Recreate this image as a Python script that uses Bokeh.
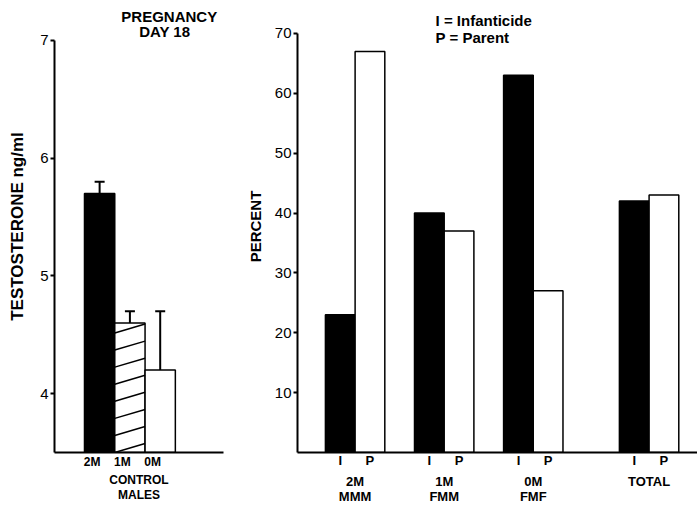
from bokeh.plotting import figure
from bokeh.layouts import row
from bokeh.models import (Range1d, FixedTicker, LinearAxis, Label, Whisker,
                          TeeHead, ColumnDataSource)
from bokeh.embed import file_html
from bokeh.resources import INLINE

# ---------------- data ----------------
ctrl_labels = ["2M", "1M", "0M"]
ctrl_testosterone = [5.7, 4.6, 4.2]
ctrl_sem = [0.1, 0.1, 0.5]

group_labels = ["2M\nMMM", "1M\nFMM", "0M\nFMF", "TOTAL"]
infanticide_pct = [23, 40, 63, 42]
parent_pct = [67, 37, 27, 43]
series_labels = ["I", "P"]

left_ticks = [4, 5, 6, 7]
right_ticks = [10, 20, 30, 40, 50, 60, 70]

# ---------------- styles / layout ----------------
FONT = "Liberation Sans"
left_fill = ["black", "white", "white"]
group_pos = [0, 3, 6, 9.9]
H = 506


def style_axis(ax):
    ax.axis_line_width = 2
    ax.major_tick_line_width = 2
    ax.major_tick_in = 0
    ax.major_tick_out = 4
    ax.minor_tick_line_color = None
    ax.major_label_text_font = FONT
    ax.major_label_text_color = "black"
    ax.axis_label_text_font = FONT
    ax.axis_label_text_font_style = "bold"
    ax.axis_label_text_color = "black"


# ================= LEFT PANEL =================
y0 = 3.5
p1 = figure(width=230, height=H, output_backend="svg", toolbar_location=None,
            x_range=Range1d(-1.49, 4.09), y_range=Range1d(y0, 7.339),
            min_border_left=54, min_border_right=7, min_border_top=0,
            min_border_bottom=H - 452)
p1.outline_line_color = None
p1.grid.visible = False
p1.background_fill_color = "white"

idx = list(range(len(ctrl_labels)))
src1 = ColumnDataSource(dict(x=idx, top=ctrl_testosterone, color=left_fill,
                             hi=[v + e for v, e in zip(ctrl_testosterone, ctrl_sem)]))
p1.vbar(x="x", top="top", bottom=y0, width=1.0, source=src1,
        fill_color="color", line_color="black", line_width=1.5)

# diagonal hatching of the 1M bar (shallow lines)
hx0, hx1 = idx[1] - 0.5, idx[1] + 0.5
htop = ctrl_testosterone[1]
rise = 0.076
step = 0.145
xs0, ys0, xs1, ys1 = [], [], [], []
k = 0
while True:
    yl = y0 + k * step
    if yl >= htop:
        break
    yr = yl + rise
    xa, ya, xb, yb = hx0, yl, hx1, yr
    if yb > htop:
        xb = hx0 + (htop - yl) / rise * (hx1 - hx0)
        yb = htop
    xs0.append(xa); ys0.append(ya); xs1.append(xb); ys1.append(yb)
    k += 1
p1.segment(x0=xs0, y0=ys0, x1=xs1, y1=ys1, line_color="black", line_width=1.5)

p1.add_layout(Whisker(source=src1, base="x", lower="top", upper="hi",
                      line_width=2, line_color="black",
                      upper_head=TeeHead(size=10, line_width=2, line_color="black"),
                      lower_head=None))

style_axis(p1.yaxis[0])
p1.yaxis.bounds = (y0, 7)
p1.yaxis.ticker = FixedTicker(ticks=left_ticks)
p1.yaxis.major_label_text_font_size = "15px"
p1.yaxis.major_label_standoff = 2
p1.yaxis.axis_label = "TESTOSTERONE ng/ml"
p1.yaxis.axis_label_text_font_size = "17px"
p1.yaxis.axis_label_standoff = 10

style_axis(p1.xaxis[0])
shift = -0.25
p1.xaxis.ticker = FixedTicker(ticks=[i + shift for i in idx])
p1.xaxis.major_label_overrides = {i + shift: lab for i, lab in zip(idx, ctrl_labels)}
p1.xaxis.major_tick_out = 0
p1.xaxis.major_label_text_font_style = "bold"
p1.xaxis.major_label_text_font_size = "12px"
p1.xaxis.major_label_standoff = 2
p1.xaxis.axis_label = "CONTROL\nMALES"
p1.xaxis.axis_label_text_font_size = "12px"
p1.xaxis.axis_label_text_line_height = 1.1
p1.xaxis.axis_label_standoff = 1

p1.add_layout(Label(x=2.3, y=7.2, text="PREGNANCY", text_align="center",
                    text_baseline="middle", text_font=FONT, text_font_style="bold",
                    text_font_size="15px", text_color="black"))
p1.add_layout(Label(x=2.15, y=7.075, text="DAY 18", text_align="center",
                    text_baseline="middle", text_font=FONT, text_font_style="bold",
                    text_font_size="15px", text_color="black"))

# ================= RIGHT PANEL =================
p2 = figure(width=467, height=H, output_backend="svg", toolbar_location=None,
            x_range=Range1d(-1.94, 11.53), y_range=Range1d(0, 75.5),
            min_border_left=67, min_border_right=0, min_border_top=0,
            min_border_bottom=H - 452)
p2.outline_line_color = None
p2.grid.visible = False
p2.background_fill_color = "white"

xi = [g - 0.5 for g in group_pos]
xp = [g + 0.5 for g in group_pos]
p2.vbar(x=xi, top=infanticide_pct, width=1.0, fill_color="black",
        line_color="black", line_width=1.5)
p2.vbar(x=xp, top=parent_pct, width=1.0, fill_color="white",
        line_color="black", line_width=1.5)

style_axis(p2.yaxis[0])
p2.yaxis.bounds = (0, 70)
p2.yaxis.ticker = FixedTicker(ticks=right_ticks)
p2.yaxis.major_label_text_font_size = "15px"
p2.yaxis.major_label_standoff = 2
p2.yaxis.axis_label = "PERCENT"
p2.yaxis.axis_label_text_font_size = "15px"
p2.yaxis.axis_label_standoff = 8

ax_ip = p2.xaxis[0]
style_axis(ax_ip)
ip_ticks = []
ip_over = {}
for a, b in zip(xi, xp):
    ip_ticks += [a, b]
    ip_over[a] = series_labels[0]
    ip_over[b] = series_labels[1]
ax_ip.ticker = FixedTicker(ticks=ip_ticks)
ax_ip.major_label_overrides = ip_over
ax_ip.major_tick_out = 0
ax_ip.major_label_text_font_style = "bold"
ax_ip.major_label_text_font_size = "13px"
ax_ip.major_label_standoff = 0

ax_grp = LinearAxis(ticker=FixedTicker(ticks=group_pos),
                    major_label_overrides={g: lab for g, lab in zip(group_pos, group_labels)})
style_axis(ax_grp)
ax_grp.axis_line_color = None
ax_grp.major_tick_line_color = None
ax_grp.major_tick_out = 0
ax_grp.major_label_text_font_style = "bold"
ax_grp.major_label_text_font_size = "13px"
ax_grp.major_label_text_line_height = 1.0
ax_grp.major_label_standoff = 3
p2.add_layout(ax_grp, "below")

p2.add_layout(Label(x=2.71, y=72.2, text="I = Infanticide", text_align="left",
                    text_baseline="middle", text_font=FONT, text_font_style="bold",
                    text_font_size="15px", text_color="black"))
p2.add_layout(Label(x=2.71, y=69.4, text="P = Parent", text_align="left",
                    text_baseline="middle", text_font=FONT, text_font_style="bold",
                    text_font_size="15px", text_color="black"))

layout = row(p1, p2)
open("out.html", "w").write(file_html(layout, INLINE))
